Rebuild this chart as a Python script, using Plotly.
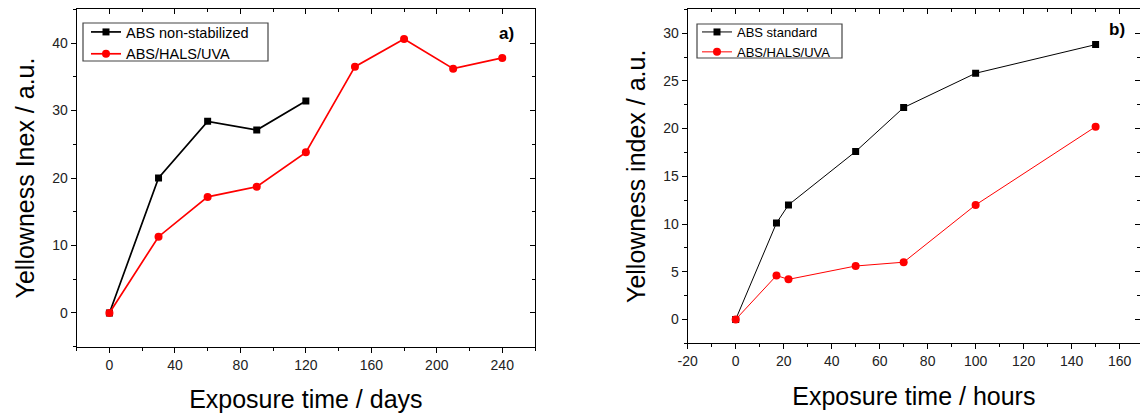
import plotly.graph_objects as go

# Panel a) data
days = [0, 30, 60, 90, 120]
yi_abs_nonstab = [0, 20.0, 28.4, 27.1, 31.4]
days_uva = [0, 30, 60, 90, 120, 150, 180, 210, 240]
yi_abs_uva_days = [0, 11.3, 17.2, 18.7, 23.8, 36.5, 40.6, 36.2, 37.8]

# Panel b) data
hours = [0, 17, 22, 50, 70, 100, 150]
yi_abs_std = [0, 10.1, 12.0, 17.6, 22.2, 25.8, 28.8]
yi_abs_uva_hours = [0, 4.6, 4.2, 5.6, 6.0, 12.0, 20.2]

# Tick labels
xticks_a = [0, 40, 80, 120, 160, 200, 240]
xticklabels_a = ["0", "40", "80", "120", "160", "200", "240"]
yticks_a = [0, 10, 20, 30, 40]
xticks_b = [-20, 0, 20, 40, 60, 80, 100, 120, 140, 160]
xticklabels_b = ["-20", "0", "20", "40", "60", "80", "100", "120", "140", "160"]
yticks_b = [0, 5, 10, 15, 20, 25, 30]

W, H = 1140, 414
FONT = "Liberation Sans, Arial, sans-serif"

fig = go.Figure()

fig.add_trace(go.Scatter(x=days, y=yi_abs_nonstab, name="ABS non-stabilized",
                         mode="lines+markers", line=dict(color="black", width=1.7),
                         marker=dict(symbol="square", size=7, color="black"),
                         xaxis="x", yaxis="y", legend="legend"))
fig.add_trace(go.Scatter(x=days_uva, y=yi_abs_uva_days, name="ABS/HALS/UVA",
                         mode="lines+markers", line=dict(color="red", width=1.7),
                         marker=dict(symbol="circle", size=8, color="red"),
                         xaxis="x", yaxis="y", legend="legend"))
fig.add_trace(go.Scatter(x=hours, y=yi_abs_std, name="ABS standard",
                         mode="lines+markers", line=dict(color="black", width=1),
                         marker=dict(symbol="square", size=7, color="black"),
                         xaxis="x2", yaxis="y2", legend="legend2"))
fig.add_trace(go.Scatter(x=hours, y=yi_abs_uva_hours, name="ABS/HALS/UVA",
                         mode="lines+markers", line=dict(color="red", width=1),
                         marker=dict(symbol="circle", size=8, color="red"),
                         xaxis="x2", yaxis="y2", legend="legend2"))

# invisible traces so the mirrored (top/right) axes are drawn
for xa, ya in [("x3", "y"), ("x", "y3"), ("x4", "y2"), ("x2", "y4")]:
    fig.add_trace(go.Scatter(x=[None], y=[None], xaxis=xa, yaxis=ya,
                             showlegend=False, hoverinfo="skip"))

dxa = [76.7 / W, 535 / W]
dya = [1 - 346.7 / H, 1 - 9.3 / H]
dxb = [687.7 / W, 1.0]
dyb = [1 - 343.3 / H, 1 - 9.3 / H]

xr_a, yr_a = [-20, 260], [-5, 45]
xr_b, yr_b = [-20, 168.5], [-2.5, 32.5]

tickfont = dict(family=FONT, size=14, color="#222")
titlefont = dict(family=FONT, size=25, color="black")


def main_axis(domain, rng, tickvals, ticktext, minor, anchor, title, standoff):
    return dict(domain=domain, range=rng, tickmode="array", tickvals=tickvals,
                ticktext=ticktext, anchor=anchor,
                showgrid=False, zeroline=False, showline=True, linecolor="black",
                linewidth=1.3, mirror=False, ticks="outside", ticklen=5, tickwidth=1.2,
                tickcolor="black", tickfont=tickfont,
                minor=dict(ticks="outside", dtick=minor, ticklen=3, tickwidth=1.2,
                           tickcolor="black", tick0=0, showgrid=False),
                title=dict(text=title, font=titlefont, standoff=standoff),
                automargin=False, fixedrange=True)


def mirror_axis(domain, rng, dtick, minor, overlay, anchor, side):
    return dict(domain=domain, range=rng, dtick=dtick, tick0=0, overlaying=overlay,
                anchor=anchor, side=side, showgrid=False, zeroline=False, showline=True,
                linecolor="black", linewidth=1.3, ticks="inside", ticklen=5, tickwidth=1.2,
                tickcolor="black", showticklabels=False,
                minor=dict(ticks="inside", dtick=minor, ticklen=3, tickwidth=1.2,
                           tickcolor="black", tick0=0, showgrid=False),
                automargin=False, fixedrange=True)


fig.update_layout(
    width=W, height=H,
    margin=dict(l=0, r=0, t=0, b=0),
    paper_bgcolor="white", plot_bgcolor="white",
    font=dict(family=FONT),
    xaxis=main_axis(dxa, xr_a, xticks_a, xticklabels_a, 20, "y", "Exposure time / days", 18),
    yaxis=main_axis(dya, yr_a, yticks_a, [str(v) for v in yticks_a], 5, "x",
                    "Yellowness Inex / a.u.", 10),
    xaxis2=main_axis(dxb, xr_b, xticks_b, xticklabels_b, 10, "y2", "Exposure time / hours", 19),
    yaxis2=main_axis(dyb, yr_b, yticks_b, [str(v) for v in yticks_b], 2.5, "x2",
                     "Yellowness index / a.u.", 10),
    xaxis3=mirror_axis(dxa, xr_a, 40, 20, "x", "y", "top"),
    yaxis3=mirror_axis(dya, yr_a, 10, 5, "y", "x", "right"),
    xaxis4=mirror_axis(dxb, xr_b, 20, 10, "x2", "y2", "top"),
    yaxis4=mirror_axis(dyb, yr_b, 5, 2.5, "y2", "x2", "right"),
    legend=dict(x=86 / W, y=1 - 16 / H, xanchor="left", yanchor="top",
                borderwidth=0, bgcolor="rgba(0,0,0,0)",
                font=dict(family=FONT, size=14.5, color="black"),
                tracegroupgap=0, itemwidth=30),
    legend2=dict(x=697 / W, y=1 - 17 / H, xanchor="left", yanchor="top",
                 borderwidth=0, bgcolor="rgba(0,0,0,0)",
                 font=dict(family=FONT, size=13, color="black"),
                 tracegroupgap=0, itemwidth=30),
    showlegend=True,
    shapes=[
        dict(type="rect", xref="paper", yref="paper", x0=83 / W, x1=268 / W,
             y0=1 - 61 / H, y1=1 - 23 / H, line=dict(color="#444", width=1.2),
             fillcolor="rgba(0,0,0,0)", layer="above"),
        dict(type="rect", xref="paper", yref="paper", x0=697 / W, x1=842 / W,
             y0=1 - 58 / H, y1=1 - 24 / H, line=dict(color="#444", width=1.2),
             fillcolor="rgba(0,0,0,0)", layer="above"),
    ],
    annotations=[
        dict(text="<b>a)</b>", x=506 / W, y=1 - 33 / H, xref="paper", yref="paper",
             xanchor="center", yanchor="middle",
             showarrow=False, font=dict(family=FONT, size=17, color="black")),
        dict(text="<b>b)</b>", x=1117 / W, y=1 - 30 / H, xref="paper", yref="paper",
             xanchor="center", yanchor="middle",
             showarrow=False, font=dict(family=FONT, size=17, color="black")),
    ],
)

fig.write_html("out.html", config={"displayModeBar": False},
               post_script="document.body.style.margin='0';document.body.style.overflow='hidden';")
